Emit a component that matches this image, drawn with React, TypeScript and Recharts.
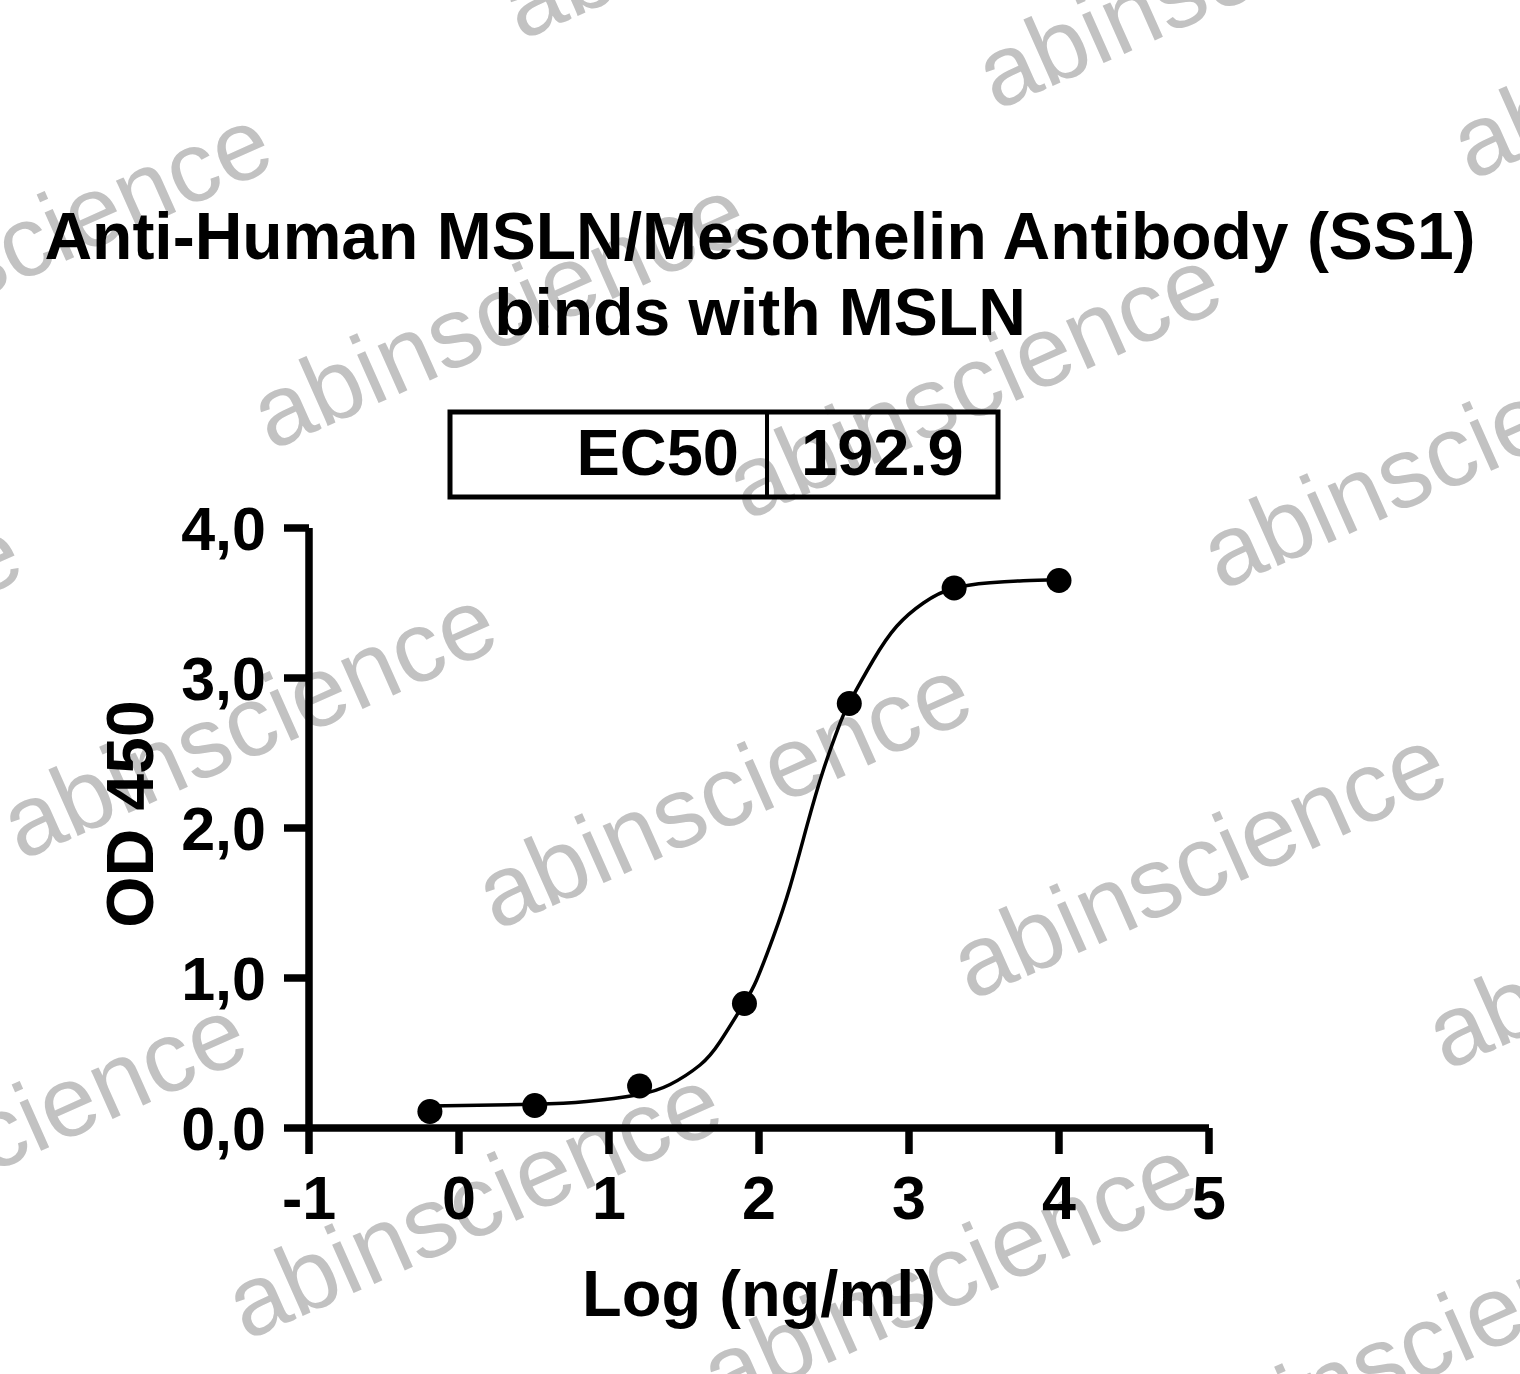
import React from 'react';
import { ComposedChart, Line, Scatter, XAxis, YAxis } from 'recharts';

// ---- data ----
const logConc = [-0.194, 0.505, 1.204, 1.903, 2.602, 3.301, 4.0];
const od450 = [0.11, 0.15, 0.28, 0.83, 2.83, 3.6, 3.65];

const fitX = [-0.194, 0.5, 0.85, 1.185, 1.407, 1.607, 1.74, 1.9, 1.984, 2.096, 2.207, 2.318, 2.429, 2.54, 2.602, 2.762, 2.918, 3.096, 3.296, 3.54, 3.762, 4.0];
const fitY = [0.147, 0.158, 0.176, 0.22, 0.29, 0.42, 0.575, 0.83, 0.987, 1.276, 1.609, 2.009, 2.387, 2.698, 2.835, 3.12, 3.345, 3.5, 3.598, 3.635, 3.649, 3.655];

const xTicks = [-1, 0, 1, 2, 3, 4, 5];
const yTicks = [0, 1, 2, 3, 4];

const titleLines = ['Anti-Human MSLN/Mesothelin Antibody (SS1)', 'binds with MSLN'];
const ec50Label = 'EC50';
const ec50Value = '192.9';
const xLabel = 'Log (ng/ml)';
const yLabel = 'OD 450';
const watermark = 'abinscience';

const points = logConc.map((x, i) => ({ x, y: od450[i] }));
const curve = fitX.map((x, i) => ({ x, y: fitY[i] }));

const W = 1520;
const H = 1374;
const FONT = '"Liberation Sans", Arial, Helvetica, sans-serif';
const AXIS_W = 7.5;

const Dot = (props: any) => {
  const { cx, cy } = props;
  if (cx == null || cy == null) return null;
  return <circle cx={cx} cy={cy} r={12.5} fill="#000" />;
};

function Watermarks() {
  const items: { x: number; y: number }[] = [];
  const ox = 271, oy = 451;
  const ax = 475, ay = 70;
  const bx = -250, by = 410;
  for (let j = -2; j <= 3; j++) {
    for (let i = -2; i <= 4; i++) {
      const x = ox + i * ax + j * bx;
      const y = oy + i * ay + j * by;
      if (x > W + 50 || x < -600 || y < -50 || y > H + 300) continue;
      items.push({ x, y });
    }
  }
  return (
    <svg width={W} height={H} style={{ position: 'absolute', left: 0, top: 0 }}>
      {items.map((p, k) => (
        <text
          key={k}
          x={p.x}
          y={p.y}
          transform={`rotate(-24 ${p.x} ${p.y})`}
          fontFamily={FONT}
          fontSize={100}
          fill="#c2c2c2"
        >
          {watermark}
        </text>
      ))}
    </svg>
  );
}

function Overlay() {
  return (
    <svg width={W} height={H} style={{ position: 'absolute', left: 0, top: 0, pointerEvents: 'none' }}>
      <g fontFamily={FONT} fontWeight="bold" fill="#000">
        <text x={760} y={259} fontSize={66} textAnchor="middle">{titleLines[0]}</text>
        <text x={760} y={335} fontSize={66} textAnchor="middle">{titleLines[1]}</text>
        <rect x={450} y={412} width={548} height={85} fill="none" stroke="#000" strokeWidth={5} />
        <line x1={767} y1={412} x2={767} y2={497} stroke="#000" strokeWidth={4} />
        <text x={739} y={475} fontSize={65} textAnchor="end">{ec50Label}</text>
        <text x={801} y={475} fontSize={65} textAnchor="start">{ec50Value}</text>
        <text x={759} y={1316} fontSize={65} textAnchor="middle">{xLabel}</text>
        <text x={153} y={814} fontSize={66} textAnchor="middle" transform="rotate(-90 153 814)">{yLabel}</text>
      </g>
    </svg>
  );
}

export default function App() {
  return (
    <div style={{ position: 'absolute', left: 0, top: 0, width: W, height: H, background: '#fff', overflow: 'hidden' }}>
      <Watermarks />
      <div style={{ position: 'absolute', left: 0, top: 0 }}>
        <ComposedChart width={W} height={H} margin={{ top: 528, right: 311, bottom: 146, left: 189 }}>
          <XAxis
            dataKey="x"
            type="number"
            domain={[-1, 5]}
            ticks={xTicks}
            interval={0}
            height={100}
            stroke="#000"
            strokeWidth={AXIS_W}
            axisLine={{ stroke: '#000', strokeWidth: AXIS_W }}
            tickLine={{ stroke: '#000', strokeWidth: AXIS_W }}
            tickSize={26}
            tickMargin={22}
            tick={{ fill: '#000', fontSize: 61, fontWeight: 'bold', fontFamily: FONT }}
            allowDataOverflow
          />
          <YAxis
            type="number"
            domain={[0, 4]}
            ticks={yTicks}
            interval={0}
            width={120}
            stroke="#000"
            strokeWidth={AXIS_W}
            axisLine={{ stroke: '#000', strokeWidth: AXIS_W }}
            tickLine={{ stroke: '#000', strokeWidth: AXIS_W }}
            tickSize={25}
            tickMargin={18}
            tickFormatter={(v: number) => v.toFixed(1).replace('.', ',')}
            tick={{ fill: '#000', fontSize: 61, fontWeight: 'bold', fontFamily: FONT }}
            allowDataOverflow
          />
          <Line
            data={curve}
            dataKey="y"
            type="natural"
            stroke="#000"
            strokeWidth={3.5}
            dot={false}
            activeDot={false}
            isAnimationActive={false}
          />
          <Scatter data={points} dataKey="y" fill="#000" shape={<Dot />} isAnimationActive={false} />
        </ComposedChart>
      </div>
      <Overlay />
    </div>
  );
}
